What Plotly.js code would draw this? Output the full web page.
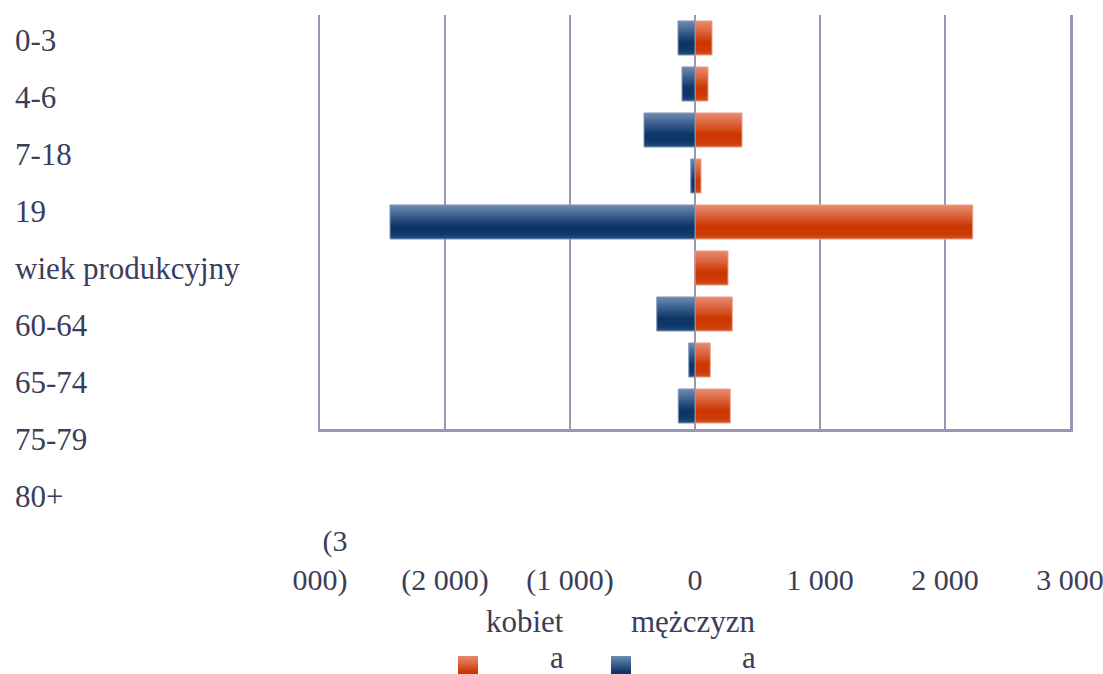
<!DOCTYPE html>
<html>
<head>
<meta charset="utf-8">
<script src="https://cdn.plot.ly/plotly-3.0.1.min.js"></script>
<style>
  html, body { margin: 0; padding: 0; background: #ffffff; }
  #chart { width: 1103px; height: 674px; }
</style>
</head>
<body>
<div id="chart"></div>
<script>
// Categories (top to bottom)
const categories = ['0-3', '4-6', '7-18', '19', 'wiek produkcyjny', '60-64', '65-74', '75-79', '80+'];
// Bar rows (one bar pair per row)
const barRows = ['r1', 'r2', 'r3', 'r4', 'r5', 'r6', 'r7', 'r8', 'r9'];
// Series values
const kobiety = [136, 104, 376, 48, 2222, 264, 298, 122, 282];
const mezczyzni = [-136, -104, -408, -34, -2440, null, -306, -50, -134];
// Axis tick values and labels
const tickValues = [-3000, -2000, -1000, 0, 1000, 2000, 3000];
const tickLabels = ['\u00A0\u00A0\u00A0\u00A0(3<br>000)', '\u00A0<br>(2 000)', '\u00A0<br>(1 000)', '\u00A0<br>0', '\u00A0<br>1 000', '\u00A0<br>2 000', '\u00A0<br>3 000'];
// Legend texts
const legendNames = ['kobieta', 'mężczyzna'];

const FONT = '"Liberation Serif", Tinos, "Times New Roman", "DejaVu Serif", "Noto Serif", serif';
const TXT = '#3b3d5a';
const GRID = '#9898b6';
const ORANGE = '#d0400e';
const BLUE = '#123f6e';

const W = 1103, H = 674, ML = 320, MR = 33, MT = 15, MB = 245;
const PW = W - ML - MR, PH = H - MT - MB;
const px = x => (x - ML) / PW;
const py = y => (H - MB - y) / PH;

const data = [
  {
    type: 'bar', orientation: 'h', name: legendNames[0],
    y: barRows, x: kobiety,
    marker: { color: ORANGE, line: { color: '#e9a08a', width: 1 } },
    showlegend: false, hoverinfo: 'none'
  },
  {
    type: 'bar', orientation: 'h', name: legendNames[1],
    y: barRows, x: mezczyzni,
    marker: { color: BLUE, line: { color: '#8494b4', width: 1 } },
    showlegend: false, hoverinfo: 'none'
  }
];

const annotations = [];
categories.forEach((c, i) => {
  annotations.push({
    xref: 'paper', yref: 'paper', x: px(13), y: py(41 + 56.9 * i),
    xanchor: 'left', yanchor: 'middle', showarrow: false, text: c,
    font: { family: FONT, size: 31, color: TXT }
  });
});
// legend texts (wrapped like the original)
const legTxt = [
  { t: legendNames[0].slice(0, -1), x: 566, y: 621 },
  { t: legendNames[0].slice(-1), x: 566, y: 657 },
  { t: legendNames[1].slice(0, -1), x: 757, y: 621 },
  { t: legendNames[1].slice(-1), x: 758, y: 657 }
];
legTxt.forEach(l => annotations.push({
  xref: 'paper', yref: 'paper', x: px(l.x), y: py(l.y),
  xanchor: 'right', yanchor: 'middle', showarrow: false, text: l.t,
  font: { family: FONT, size: 31, color: TXT }
}));

const shapes = [
  { type: 'rect', xref: 'paper', yref: 'paper', x0: px(458), x1: px(478), y0: py(682), y1: py(656), fillcolor: ORANGE, line: { width: 0 } },
  { type: 'rect', xref: 'paper', yref: 'paper', x0: px(611), x1: px(631), y0: py(682), y1: py(656), fillcolor: BLUE, line: { width: 0 } }
];

const layout = {
  width: W, height: H,
  margin: { l: ML, r: MR, t: MT, b: MB, pad: 0 },
  paper_bgcolor: '#ffffff', plot_bgcolor: '#ffffff',
  barmode: 'relative', bargap: 0.26,
  font: { family: FONT, size: 30, color: TXT },
  xaxis: {
    range: [-3000, 3000], tickvals: tickValues, ticktext: tickLabels,
    showgrid: true, gridcolor: GRID, gridwidth: 2.5,
    zeroline: true, zerolinecolor: GRID, zerolinewidth: 2.5,
    showline: true, linecolor: GRID, linewidth: 2.5,
    ticks: '', ticklabelstandoff: 83, ticklabeloverflow: 'allow',
    tickfont: { family: FONT, size: 30, color: TXT },
    fixedrange: true
  },
  yaxis: {
    type: 'category', categoryorder: 'array', categoryarray: barRows,
    autorange: 'reversed', showticklabels: false, showgrid: false,
    zeroline: false, showline: true, mirror: true, linecolor: GRID, linewidth: 2.5,
    ticks: '', fixedrange: true
  },
  annotations: annotations,
  shapes: shapes
};

Plotly.newPlot('chart', data, layout, { staticPlot: true, displayModeBar: false }).then(gd => {
  const ns = 'http://www.w3.org/2000/svg';
  const svg = gd.querySelector('.main-svg');
  let defs = svg.querySelector('defs');
  if (!defs) { defs = document.createElementNS(ns, 'defs'); svg.insertBefore(defs, svg.firstChild); }
  function grad(id, stops) {
    const g = document.createElementNS(ns, 'linearGradient');
    g.setAttribute('id', id);
    g.setAttribute('x1', '0'); g.setAttribute('y1', '0');
    g.setAttribute('x2', '0'); g.setAttribute('y2', '1');
    stops.forEach(([o, c]) => {
      const s = document.createElementNS(ns, 'stop');
      s.setAttribute('offset', o); s.setAttribute('stop-color', c);
      g.appendChild(s);
    });
    defs.appendChild(g);
  }
  grad('gOr', [[0, '#e58a6c'], [0.3, '#dc6540'], [0.62, '#cc3600'], [0.85, '#cc3a06'], [1, '#d4531f']]);
  grad('gBl', [[0, '#6d8db3'], [0.3, '#3d6290'], [0.62, '#0c3566'], [0.85, '#0f386a'], [1, '#25507e']]);
  const traces = gd.querySelectorAll('.barlayer .trace');
  if (traces[0]) traces[0].querySelectorAll('path').forEach(p => p.style.fill = 'url(#gOr)');
  if (traces[1]) traces[1].querySelectorAll('path').forEach(p => p.style.fill = 'url(#gBl)');
  const sh = gd.querySelectorAll('.shapelayer path');
  if (sh[0]) sh[0].style.fill = 'url(#gOr)';
  if (sh[1]) sh[1].style.fill = 'url(#gBl)';
});
</script>
</body>
</html>
